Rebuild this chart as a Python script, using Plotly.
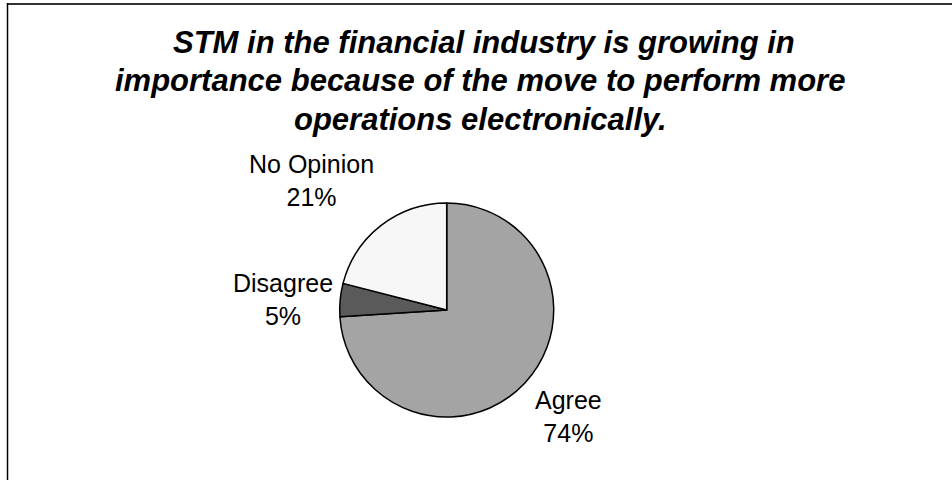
import plotly.graph_objects as go

# Survey responses
categories = ["Agree", "Disagree", "No Opinion"]
shares = [74, 5, 21]
slice_colors = ["#A4A4A4", "#5A5A5A", "#F7F7F7"]

title_lines = [
    "STM in the financial industry is growing in",
    "importance because of the move to perform more",
    "operations electronically.",
]

W, H = 952, 480
FONT = "Liberation Sans, Arial, sans-serif"

# pie geometry in pixels
cx, cy, r = 446.7, 310.0, 107.0

fig = go.Figure(
    go.Pie(
        labels=categories,
        values=shares,
        sort=False,
        direction="clockwise",
        rotation=0,
        textinfo="none",
        hoverinfo="label+percent",
        marker=dict(colors=slice_colors, line=dict(color="#000000", width=1.5)),
        domain=dict(x=[(cx - r) / W, (cx + r) / W], y=[1 - (cy + r) / H, 1 - (cy - r) / H]),
        showlegend=False,
    )
)

# label anchors (pixel centres of each two-line label)
label_pos = {"Agree": (568, 416), "Disagree": (283, 299), "No Opinion": (311.5, 180)}
total = sum(shares)
annotations = []
for name, val in zip(categories, shares):
    px, py = label_pos[name]
    annotations.append(
        dict(
            x=px / W, y=1 - py / H, xref="paper", yref="paper",
            text=f"{name}<br>{round(100 * val / total)}%",
            showarrow=False, xanchor="center", yanchor="middle",
            font=dict(family=FONT, size=25, color="#000000"),
        )
    )

# title, one annotation per line
title_centres = [(484, 42.5), (480, 81), (480, 119.5)]
for line, (px, py) in zip(title_lines, title_centres):
    annotations.append(
        dict(
            x=px / W, y=1 - py / H, xref="paper", yref="paper",
            text=line,
            showarrow=False, xanchor="center", yanchor="middle",
            font=dict(family=FONT, size=31, color="#000000", weight="bold", style="italic"),
        )
    )

shapes = [
    dict(type="line", xref="paper", yref="paper", x0=7 / W, x1=1, y0=1 - 4 / H, y1=1 - 4 / H,
         line=dict(color="#333333", width=2)),
    dict(type="line", xref="paper", yref="paper", x0=7.5 / W, x1=7.5 / W, y0=1 - 3 / H, y1=0,
         line=dict(color="#000000", width=1.5)),
]

fig.update_layout(
    width=W, height=H,
    margin=dict(l=0, r=0, t=0, b=0),
    paper_bgcolor="#FFFFFF",
    plot_bgcolor="#FFFFFF",
    annotations=annotations,
    shapes=shapes,
)

fig.write_html("out.html", config={"displayModeBar": False})
